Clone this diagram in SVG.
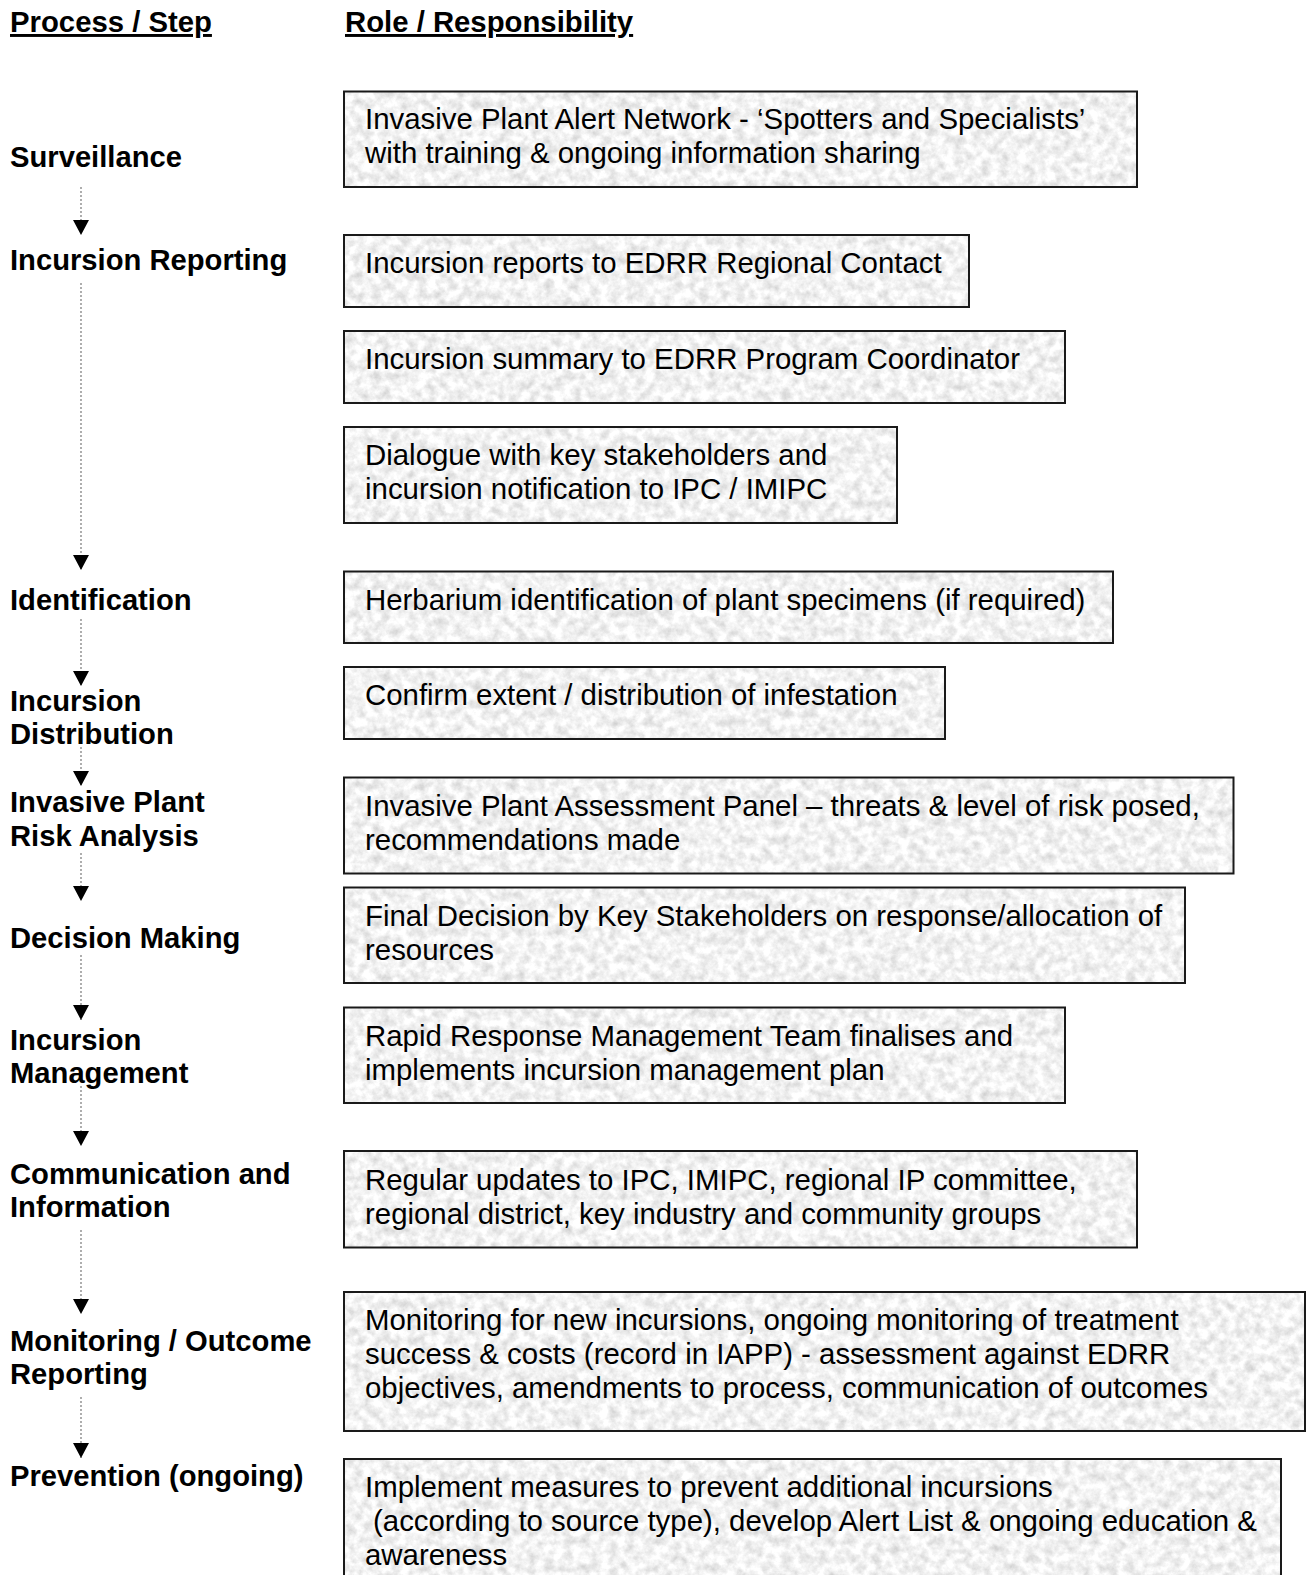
<svg xmlns="http://www.w3.org/2000/svg" width="1311" height="1575" viewBox="0 0 1311 1575">
<style>
.hdr{font-family:"Liberation Sans",Arial,sans-serif;font-weight:bold;font-size:29.3px;fill:#000;text-decoration:underline}
.step{font-family:"Liberation Sans",Arial,sans-serif;font-weight:bold;font-size:29.2px;fill:#000}
.role{font-family:"Liberation Sans",Arial,sans-serif;font-size:29.4px;fill:#000}
.fill{fill:#ececec}
.border{fill:none;stroke:#1a1a1a;stroke-width:2}
.conn{stroke:#9a9a9a;stroke-width:1.6;stroke-dasharray:2 2;fill:none}
</style>
<defs>
<filter id="granite" x="0" y="0" width="100%" height="100%" color-interpolation-filters="sRGB">
<feTurbulence type="fractalNoise" baseFrequency="0.11" numOctaves="4" seed="7" result="n"/>
<feColorMatrix in="n" type="matrix" values="0.3 0 0 0 0.8  0.3 0 0 0 0.8  0.3 0 0 0 0.8  0 0 0 0 1" result="g"/>
<feComposite in="g" in2="SourceGraphic" operator="in"/>
</filter>
<marker id="arr" viewBox="0 0 15 16" refX="15" refY="8" markerWidth="15" markerHeight="16" markerUnits="userSpaceOnUse" orient="auto">
<path d="M0,0 L15,8 L0,16 z" fill="#000"/>
</marker>
</defs>
<rect width="1311" height="1575" fill="#fff"/>

<g id="headers">
<text class="hdr" x="10" y="32">Process / Step</text>
<text class="hdr" x="345" y="32">Role / Responsibility</text>
</g>

<g id="connectors">
<line class="conn" x1="81" y1="187" x2="81" y2="235" marker-end="url(#arr)"/>
<line class="conn" x1="81" y1="283" x2="81" y2="570" marker-end="url(#arr)"/>
<line class="conn" x1="81" y1="619" x2="81" y2="686" marker-end="url(#arr)"/>
<line class="conn" x1="81" y1="747" x2="81" y2="786" marker-end="url(#arr)"/>
<line class="conn" x1="81" y1="853" x2="81" y2="901" marker-end="url(#arr)"/>
<line class="conn" x1="81" y1="955" x2="81" y2="1020" marker-end="url(#arr)"/>
<line class="conn" x1="81" y1="1086" x2="81" y2="1146" marker-end="url(#arr)"/>
<line class="conn" x1="81" y1="1230" x2="81" y2="1314" marker-end="url(#arr)"/>
<line class="conn" x1="81" y1="1397" x2="81" y2="1458" marker-end="url(#arr)"/>
</g>

<g id="steps">
<g id="step-surveillance"><text class="step" x="10" y="167">Surveillance</text></g>
<g id="step-incursion-reporting"><text class="step" x="10" y="270">Incursion Reporting</text></g>
<g id="step-identification"><text class="step" x="10" y="610">Identification</text></g>
<g id="step-incursion-distribution"><text class="step" x="10" y="711">Incursion</text><text class="step" x="10" y="744">Distribution</text></g>
<g id="step-risk-analysis"><text class="step" x="10" y="812">Invasive Plant</text><text class="step" x="10" y="846">Risk Analysis</text></g>
<g id="step-decision-making"><text class="step" x="10" y="948">Decision Making</text></g>
<g id="step-incursion-management"><text class="step" x="10" y="1050">Incursion</text><text class="step" x="10" y="1083">Management</text></g>
<g id="step-communication"><text class="step" x="10" y="1184">Communication and</text><text class="step" x="10" y="1217">Information</text></g>
<g id="step-monitoring"><text class="step" x="10" y="1351">Monitoring / Outcome</text><text class="step" x="10" y="1384">Reporting</text></g>
<g id="step-prevention"><text class="step" x="10" y="1486">Prevention (ongoing)</text></g>
</g>

<g id="roles">
<g id="role-alert-network">
<rect class="fill" filter="url(#granite)" x="344" y="91.5" width="793" height="95.5"/>
<rect class="border" x="344" y="91.5" width="793" height="95.5"/>
<text class="role" x="365" y="129">Invasive Plant Alert Network - ‘Spotters and Specialists’</text>
<text class="role" x="365" y="163">with training &amp; ongoing information sharing</text>
</g>
<g id="role-incursion-reports">
<rect class="fill" filter="url(#granite)" x="344" y="235" width="625" height="72"/>
<rect class="border" x="344" y="235" width="625" height="72"/>
<text class="role" x="365" y="273">Incursion reports to EDRR Regional Contact</text>
</g>
<g id="role-incursion-summary">
<rect class="fill" filter="url(#granite)" x="344" y="331" width="721" height="72"/>
<rect class="border" x="344" y="331" width="721" height="72"/>
<text class="role" x="365" y="369">Incursion summary to EDRR Program Coordinator</text>
</g>
<g id="role-dialogue">
<rect class="fill" filter="url(#granite)" x="344" y="427" width="553" height="96"/>
<rect class="border" x="344" y="427" width="553" height="96"/>
<text class="role" x="365" y="465">Dialogue with key stakeholders and</text>
<text class="role" x="365" y="499">incursion notification to IPC / IMIPC</text>
</g>
<g id="role-herbarium">
<rect class="fill" filter="url(#granite)" x="344" y="571.5" width="769" height="71.5"/>
<rect class="border" x="344" y="571.5" width="769" height="71.5"/>
<text class="role" x="365" y="609.5">Herbarium identification of plant specimens (if required)</text>
</g>
<g id="role-extent">
<rect class="fill" filter="url(#granite)" x="344" y="667" width="601" height="72"/>
<rect class="border" x="344" y="667" width="601" height="72"/>
<text class="role" x="365" y="705">Confirm extent / distribution of infestation</text>
</g>
<g id="role-assessment-panel">
<rect class="fill" filter="url(#granite)" x="344" y="777.5" width="889.5" height="96"/>
<rect class="border" x="344" y="777.5" width="889.5" height="96"/>
<text class="role" x="365" y="815.5">Invasive Plant Assessment Panel – threats &amp; level of risk posed,</text>
<text class="role" x="365" y="849.5">recommendations made</text>
</g>
<g id="role-final-decision">
<rect class="fill" filter="url(#granite)" x="344" y="887.5" width="841" height="95.5"/>
<rect class="border" x="344" y="887.5" width="841" height="95.5"/>
<text class="role" x="365" y="925.5">Final Decision by Key Stakeholders on response/allocation of</text>
<text class="role" x="365" y="959.5">resources</text>
</g>
<g id="role-rapid-response">
<rect class="fill" filter="url(#granite)" x="344" y="1007.5" width="721" height="95.5"/>
<rect class="border" x="344" y="1007.5" width="721" height="95.5"/>
<text class="role" x="365" y="1045.5">Rapid Response Management Team finalises and</text>
<text class="role" x="365" y="1079.5">implements incursion management plan</text>
</g>
<g id="role-updates">
<rect class="fill" filter="url(#granite)" x="344" y="1151" width="793" height="96.5"/>
<rect class="border" x="344" y="1151" width="793" height="96.5"/>
<text class="role" x="365" y="1189.5">Regular updates to IPC, IMIPC, regional IP committee,</text>
<text class="role" x="365" y="1223.5">regional district, key industry and community groups</text>
</g>
<g id="role-monitoring">
<rect class="fill" filter="url(#granite)" x="344" y="1292" width="961" height="139"/>
<rect class="border" x="344" y="1292" width="961" height="139"/>
<text class="role" x="365" y="1330">Monitoring for new incursions, ongoing monitoring of treatment</text>
<text class="role" x="365" y="1364">success &amp; costs (record in IAPP) - assessment against EDRR</text>
<text class="role" x="365" y="1398">objectives, amendments to process, communication of outcomes</text>
</g>
<g id="role-prevention">
<rect class="fill" filter="url(#granite)" x="344" y="1459" width="937" height="130"/>
<rect class="border" x="344" y="1459" width="937" height="130"/>
<text class="role" x="365" y="1497">Implement measures to prevent additional incursions</text>
<text class="role" x="373" y="1531">(according to source type), develop Alert List &amp; ongoing education &amp;</text>
<text class="role" x="365" y="1565">awareness</text>
</g>
</g>
</svg>
